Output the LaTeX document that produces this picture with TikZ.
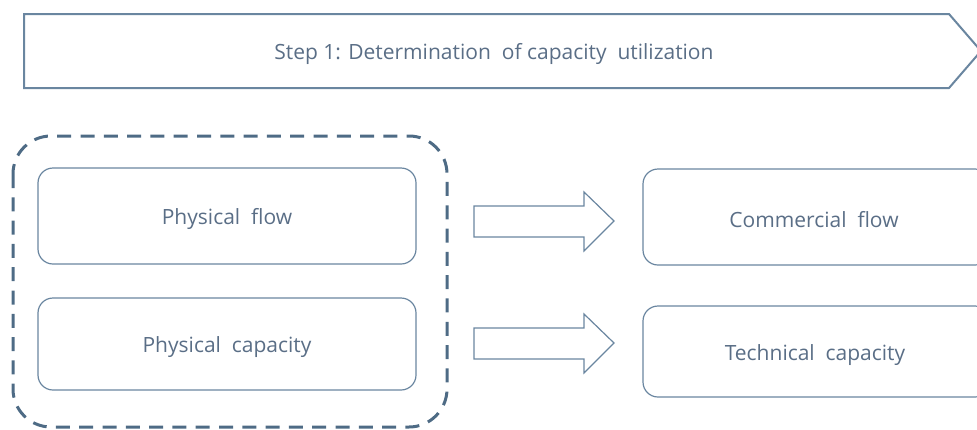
\documentclass[tikz,border=0pt]{standalone}
\usepackage{fontspec}
\setmainfont{Open Sans}
\definecolor{edgecol}{HTML}{6A86A0}
\definecolor{dashcol}{HTML}{4E6B85}
\definecolor{txtcol}{HTML}{5A6E86}
\begin{document}
\begin{tikzpicture}[x=1pt,y=-1pt,
  lbl/.style={text=txtcol,font=\fontsize{21}{24}\selectfont,inner sep=0pt},
  rbox/.style={draw=edgecol,line width=1.2pt,rounded corners=15pt},
  blockarrow/.style={draw=edgecol,line width=1.2pt,line join=miter}]
\useasboundingbox (0,0) rectangle (977,429);
\clip (0,0) rectangle (977,429);
% top step arrow
\draw[edgecol,line width=2pt,line join=miter] (24,14) -- (949,14) -- (981,51) -- (949,88) -- (24,88) -- cycle;
\node[lbl] (step) at (494,54) {Step 1: Determination\ \ of capacity\ \ utilization};
% dashed group
\draw[dashcol,line width=3pt,dash pattern=on 14pt off 9.3pt,rounded corners=38pt] (13,136) rectangle (447,427);
% left boxes
\draw[rbox] (38,168) rectangle (416,264);
\node[lbl] (pflow) at (227,219) {Physical\ \ flow};
\draw[rbox] (38,298) rectangle (416,390);
\node[lbl] (pcap) at (227,347) {Physical\ \ capacity};
% right boxes
\draw[rbox] (643,169) rectangle (990,265);
\node[lbl] (cflow) at (814,220) {Commercial\ \ flow};
\draw[rbox] (643,306) rectangle (990,397);
\node[lbl] (tcap) at (815,355) {Technical\ \ capacity};
% block arrows
\draw[blockarrow] (474,206) -- (584,206) -- (584,192) -- (614,221) -- (584,251) -- (584,237) -- (474,237) -- cycle;
\draw[blockarrow] (474,328) -- (584,328) -- (584,314) -- (614,343) -- (584,373) -- (584,359) -- (474,359) -- cycle;
\end{tikzpicture}
\end{document}
